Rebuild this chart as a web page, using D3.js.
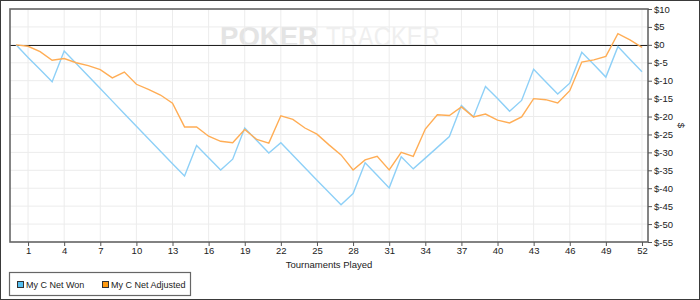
<!DOCTYPE html>
<html>
<head>
<meta charset="utf-8">
<script src="https://cdn.jsdelivr.net/npm/d3@7"></script>
<style>
  body { margin: 0; background: #fff; }
  text { font-family: "Liberation Sans", Arial, sans-serif; fill: #222; }
</style>
</head>
<body>
<div id="chart"></div>
<script>
    var width = 700;
    var height = 300;

    // tournament number (x) and running totals in $
    var played = [0,1,2,3,4,5,6,7,8,9,10,11,12,13,14,15,16,17,18,19,20,21,22,23,24,25,26,
                  27,28,29,30,31,32,33,34,35,36,37,38,39,40,41,42,43,44,45,46,47,48,49,50,51,52];

    var netWon = [0,-3.5,-6.9,-10.3,-1.75,-5.2,-8.7,-12.2,-15.7,-19.2,-22.7,-26.2,-29.7,-33.2,
                  -36.6,-28.1,-31.5,-34.9,-31.9,-23.2,-26.7,-30.2,-27.3,-30.8,-34.3,-37.8,-41.2,
                  -44.6,-41.5,-32.9,-36.4,-39.9,-31.2,-34.6,-31.6,-28.6,-25.6,-16.9,-20.1,-11.6,
                  -15.0,-18.5,-15.5,-6.8,-10.3,-13.7,-10.7,-2.1,-5.5,-9.0,-0.5,-4.0,-7.5];

    var netAdjusted = [0,-0.4,-1.9,-4.3,-3.8,-5.0,-5.8,-6.9,-9.2,-7.6,-11.0,-12.4,-14.0,-16.3,
                       -22.9,-22.9,-25.5,-26.9,-27.3,-23.6,-26.4,-27.4,-19.8,-20.8,-23.2,-24.9,-27.9,
                       -30.7,-34.9,-32.1,-31.1,-34.9,-30.0,-31.1,-23.5,-19.5,-19.7,-17.3,-20.1,-19.3,
                       -21.0,-21.8,-20.1,-15.0,-15.3,-16.2,-12.8,-4.8,-4.2,-3.2,3.1,1.4,-0.7];

    var xTicks = [1,4,7,10,13,16,19,22,25,28,31,34,37,40,43,46,49,52];
    var yTicks = [10,5,0,-5,-10,-15,-20,-25,-30,-35,-40,-45,-50,-55];

    var seriesNames = ["My C Net Won", "My C Net Adjusted"];
    var lineColors = ["#8ed0f7", "#ffad55"];
    var boxColors = ["#55bff0", "#ff9a10"];

    var plotL = 10, plotR = 648, plotT = 9, plotB = 242;

    var svg = d3.select("#chart")
          .append("svg")
          .attr("width", width)
          .attr("height", height);

    svg.append("rect")
       .attr("x", 0.5).attr("y", 0.5)
       .attr("width", width - 1).attr("height", height - 1)
       .attr("fill", "#fff")
       .attr("stroke", "#3a3a3a");

    var x = d3.scaleLinear().domain([-0.5, 52.5]).range([plotL, plotR]);
    var y = d3.scaleLinear().domain([-55, 10]).range([plotB, plotT]);

    // watermark
    svg.append("text")
       .attr("x", 220).attr("y", 46)
       .attr("font-size", 28).attr("font-weight", "bold")
       .attr("textLength", 98).attr("lengthAdjust", "spacingAndGlyphs")
       .style("fill", "#e4e4e4")
       .text("POKER");
    svg.append("path")
       .attr("transform", "translate(248,35)")
       .attr("d", "M0,-5C3,-2 5,0 3,2C2,3 1,2 0.5,1L1.5,4L-1.5,4L-0.5,1C-1,2 -2,3 -3,2C-5,0 -3,-2 0,-5Z")
       .attr("fill", "#fff");
    svg.append("text")
       .attr("x", 326).attr("y", 46)
       .attr("font-size", 28)
       .attr("textLength", 114).attr("lengthAdjust", "spacingAndGlyphs")
       .style("fill", "#efefef")
       .text("TRACKER");

    // grid
    var grid = svg.append("g");
    grid.selectAll(".vg")
      .data(xTicks)
      .enter()
      .append("line")
      .attr("x1", function(d){ return x(d); })
      .attr("x2", function(d){ return x(d); })
      .attr("y1", plotT).attr("y2", plotB)
      .attr("stroke", "#ececec");

    grid.selectAll(".hg")
      .data(yTicks)
      .enter()
      .append("line")
      .attr("x1", plotL).attr("x2", plotR)
      .attr("y1", function(d){ return y(d); })
      .attr("y2", function(d){ return y(d); })
      .attr("stroke", "#ececec");

    svg.append("line")
       .attr("x1", plotL).attr("x2", plotR)
       .attr("y1", Math.round(y(0)) + 0.5).attr("y2", Math.round(y(0)) + 0.5)
       .attr("stroke", "#222");

    // lines
    var series = [netWon, netAdjusted];
    var lineGen = d3.line()
      .x(function(d, i){ return x(played[i]); })
      .y(function(d){ return y(d); });

    svg.selectAll(".series")
      .data(series)
      .enter()
      .append("path")
      .attr("d", lineGen)
      .attr("fill", "none")
      .attr("stroke", function(d, i){ return lineColors[i]; })
      .attr("stroke-width", 1.4);

    // frame
    svg.append("rect")
       .attr("x", plotL).attr("y", plotT)
       .attr("width", plotR - plotL).attr("height", plotB - plotT)
       .attr("fill", "none")
       .attr("stroke", "#666")
       .attr("stroke-width", 1.6);

    // axes
    var xAxis = d3.axisBottom(x).tickValues(xTicks).tickSize(4).tickSizeOuter(0);
    var gx = svg.append("g")
      .attr("transform", "translate(0," + plotB + ")")
      .call(xAxis);
    gx.select(".domain").remove();
    gx.selectAll("line").attr("stroke", "#555");
    gx.selectAll("text").attr("font-size", 9.5).attr("dy", "0.55em").style("fill", "#222");

    var yAxis = d3.axisRight(y).tickValues(yTicks).tickSize(4).tickSizeOuter(0)
      .tickFormat(function(d){ return "$" + d; });
    var gy = svg.append("g")
      .attr("transform", "translate(" + plotR + ",0)")
      .call(yAxis);
    gy.select(".domain").remove();
    gy.selectAll("line").attr("stroke", "#555");
    gy.selectAll("text").attr("font-size", 9.5).attr("x", 6).style("fill", "#222");

    svg.append("text")
       .attr("x", (plotL + plotR) / 2).attr("y", 268)
       .attr("text-anchor", "middle")
       .attr("font-size", 9.5)
       .text("Tournaments Played");

    svg.append("text")
       .attr("transform", "translate(678," + ((plotT + plotB) / 2) + ") rotate(90)")
       .attr("text-anchor", "middle")
       .attr("font-size", 9.5)
       .text("$");

    // legend
    svg.append("rect")
       .attr("x", 9.5).attr("y", 272.5)
       .attr("width", 181).attr("height", 23)
       .attr("fill", "#fff")
       .attr("stroke", "#666")
       .attr("stroke-width", 1.2);

    var legendX = [17, 102];
    var legend = svg.selectAll(".leg")
      .data(seriesNames)
      .enter()
      .append("g")
      .attr("transform", function(d, i){ return "translate(" + legendX[i] + ",281)"; });

    legend.append("rect")
      .attr("x", 0.5).attr("y", 0.5)
      .attr("width", 6).attr("height", 6)
      .attr("fill", function(d, i){ return boxColors[i]; })
      .attr("stroke", "#333");

    legend.append("text")
      .attr("x", 9).attr("y", 6.5)
      .attr("font-size", 9)
      .text(function(d){ return d; });
</script>
</body>
</html>
